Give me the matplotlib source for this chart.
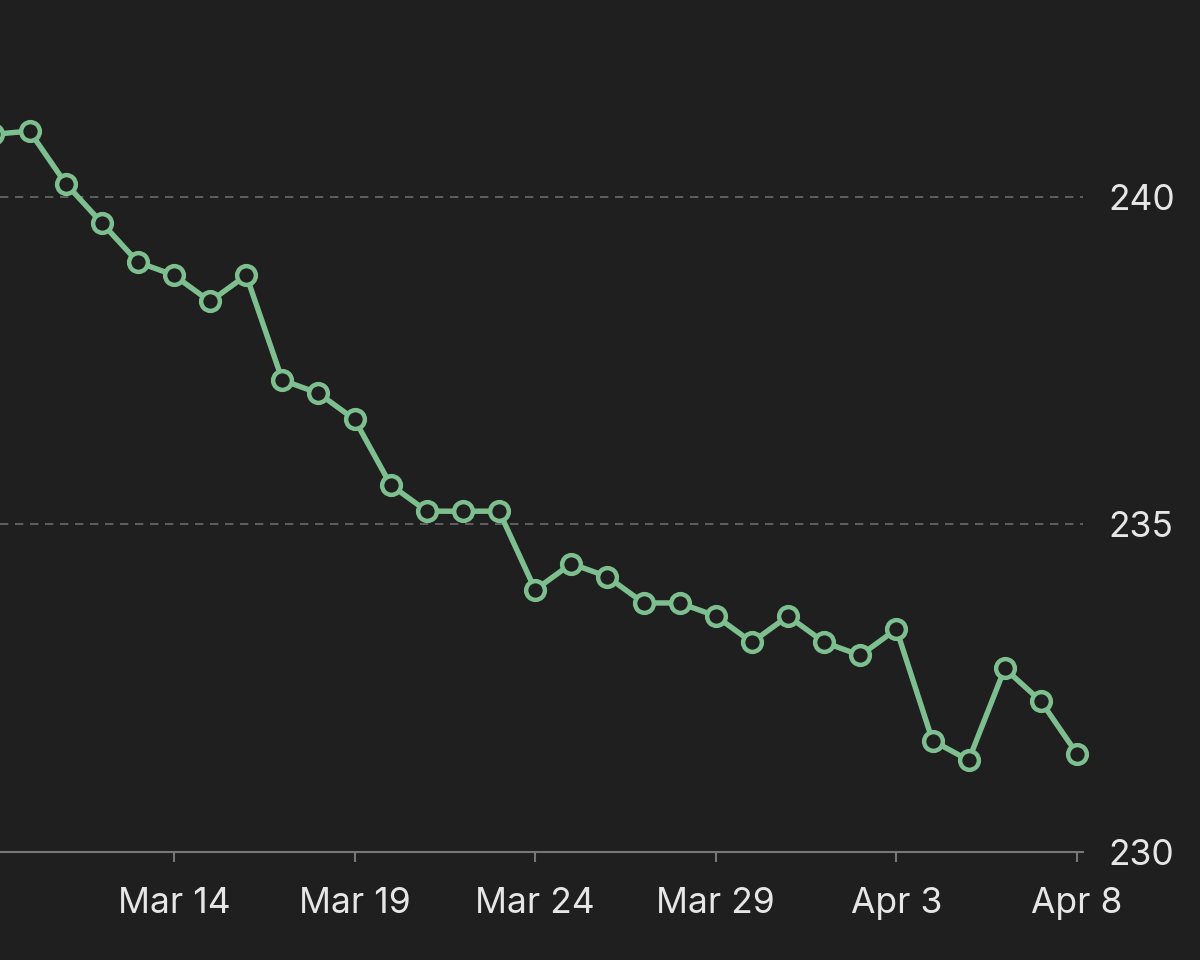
import matplotlib
matplotlib.use("Agg")
import matplotlib.pyplot as plt
import matplotlib.dates as mdates
import pandas as pd

dates = pd.date_range("2024-03-09", "2024-04-08", freq="D")
values = [240.95, 241.0, 240.2, 239.6, 239.0, 238.8, 238.4, 238.8, 237.2, 237.0,
          236.6, 235.6, 235.2, 235.2, 235.2, 234.0, 234.4, 234.2, 233.8, 233.8,
          233.6, 233.2, 233.6, 233.2, 233.0, 233.4, 231.7, 231.4, 232.8, 232.3,
          231.5]
tick_dates = pd.to_datetime(["2024-03-14", "2024-03-19", "2024-03-24",
                             "2024-03-29", "2024-04-03", "2024-04-08"])
tick_labels = ["Mar 14", "Mar 19", "Mar 24", "Mar 29", "Apr 3", "Apr 8"]
y_ticks = [230, 235, 240]

BG = "#1f1f1f"
GREEN = "#7dbf8e"
TEXT = "#e6e6e6"
GRID = "#6a6a6a"

plt.rcParams["font.family"] = ["Inter", "DejaVu Sans"]

fig = plt.figure(figsize=(12, 9.6), dpi=100, facecolor=BG)
ax = fig.add_axes([0, 1 - 852 / 960, 1083 / 1200, 852 / 960])
ax.set_facecolor(BG)

ax.plot(dates, values, color=GREEN, lw=3.9, marker="o", ms=13.5,
        mfc=BG, mec=GREEN, mew=3.2, zorder=3, clip_on=False)

x0 = mdates.date2num(pd.Timestamp("2024-03-14")) - 4.817
x1 = mdates.date2num(pd.Timestamp("2024-04-08")) + 0.166
ax.set_xlim(x0, x1)
ax.set_ylim(230, 243.0)

for v in y_ticks[1:]:
    ax.axhline(v, color=GRID, lw=1.2, ls=(0, (5, 4)), zorder=1)

ax.set_xticks(mdates.date2num(tick_dates))
ax.set_xticklabels(tick_labels)
ax.tick_params(axis="x", direction="out", length=7, width=1.5, color="#777777",
               labelsize=25.5, labelcolor=TEXT, pad=18)

ax.yaxis.tick_right()
ax.set_yticks(y_ticks)
ax.set_yticklabels([str(v) for v in y_ticks])
ax.tick_params(axis="y", length=0, labelsize=25.5, labelcolor=TEXT, pad=18)

for s in ["top", "left", "right"]:
    ax.spines[s].set_visible(False)
ax.spines["bottom"].set_color("#777777")
ax.spines["bottom"].set_linewidth(1.5)

fig.savefig("out.png", dpi=100, facecolor=BG)
